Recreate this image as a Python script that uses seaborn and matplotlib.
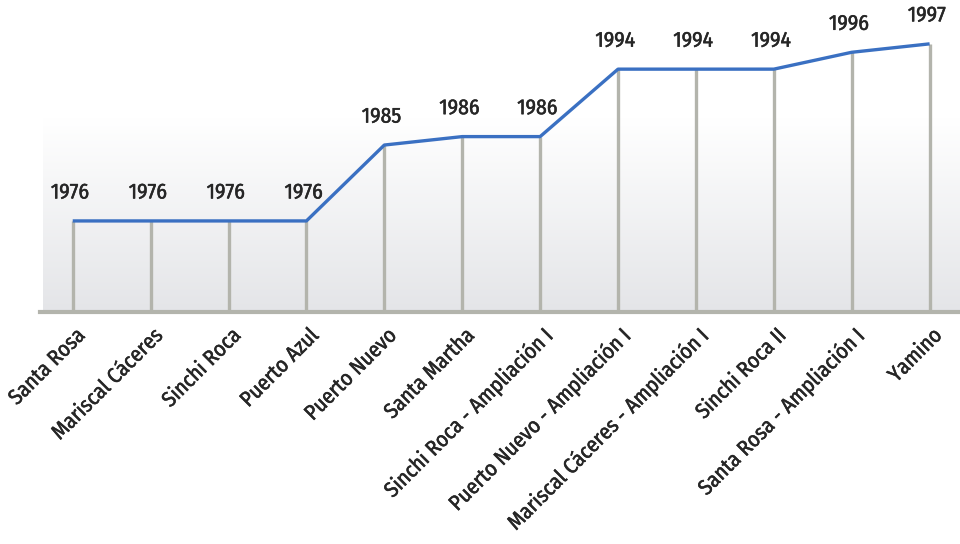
import numpy as np
import pandas as pd
import matplotlib
matplotlib.use("Agg")
import matplotlib.pyplot as plt
import matplotlib.transforms as mtransforms
import matplotlib.patheffects as pe
from matplotlib.colors import LinearSegmentedColormap
import seaborn as sns

categories = ["Santa Rosa", "Mariscal Cáceres", "Sinchi Roca", "Puerto Azul",
              "Puerto Nuevo", "Santa Martha", "Sinchi Roca - Ampliación I",
              "Puerto Nuevo - Ampliación I", "Mariscal Cáceres - Ampliación I",
              "Sinchi Roca II", "Santa Rosa - Ampliación I", "Yamino"]
years = [1976, 1976, 1976, 1976, 1985, 1986, 1986, 1994, 1994, 1994, 1996, 1997]

sns.set_style("white")
plt.rcParams['font.family'] = ['Fira Sans Condensed', 'DejaVu Sans']

df = pd.DataFrame({"pos": np.arange(len(categories)), "year": years, "cat": categories})

fig = plt.figure(figsize=(9.6, 5.44), dpi=100)
ax = fig.add_axes([40/960, (544-312)/544, 920/960, 312/544])

ymin, ymax = 1965.2, 2002.2
ax.set_ylim(ymin, ymax)
ax.set_xlim(-0.42, len(categories) - 1 + 0.39)

# gradient background
cmap = LinearSegmentedColormap.from_list("g", [(0, "#ffffff"), (0.38, "#ffffff"), (1, "#e4e5e8")], N=256)
grad = np.linspace(0, 1, 256).reshape(-1, 1)
ax.imshow(grad, aspect="auto", cmap=cmap, extent=[0.003, 1, 0, 1],
          transform=ax.transAxes, zorder=0, origin="upper")

# drop lines
ax.vlines(df["pos"], ymin, df["year"], color="#b3b4ac", lw=2.4, zorder=2)

sns.lineplot(data=df, x="pos", y="year", ax=ax, color="#3a70c2", lw=2.4,
             zorder=3, solid_capstyle="butt")

txt_color = "#262626"
thick = [pe.withStroke(linewidth=0.35, foreground=txt_color)]

for x, y in zip(df["pos"], df["year"]):
    ax.annotate(str(y), (x, y), xytext=(-2, 13), textcoords="offset points",
                ha="center", va="bottom", fontsize=15.5, color=txt_color,
                fontweight="normal", path_effects=thick)

for s in ["top", "right", "left"]:
    ax.spines[s].set_visible(False)
ax.spines["bottom"].set_color("#b3b4ac")
ax.spines["bottom"].set_linewidth(3)
ax.spines["bottom"].set_zorder(4)

ax.set_yticks([])
ax.set_xticks(df["pos"])
ax.set_xticklabels(categories, rotation=45, ha="right", rotation_mode="anchor",
                   fontsize=15.5, color=txt_color, fontweight="normal")
ax.tick_params(axis="x", length=0, pad=9)
offset = mtransforms.ScaledTranslation(1/72, 0, fig.dpi_scale_trans)
for lbl in ax.get_xticklabels():
    lbl.set_transform(lbl.get_transform() + offset)
    lbl.set_path_effects(thick)
ax.set_xlabel("")
ax.set_ylabel("")

fig.savefig("out.png", dpi=100)
